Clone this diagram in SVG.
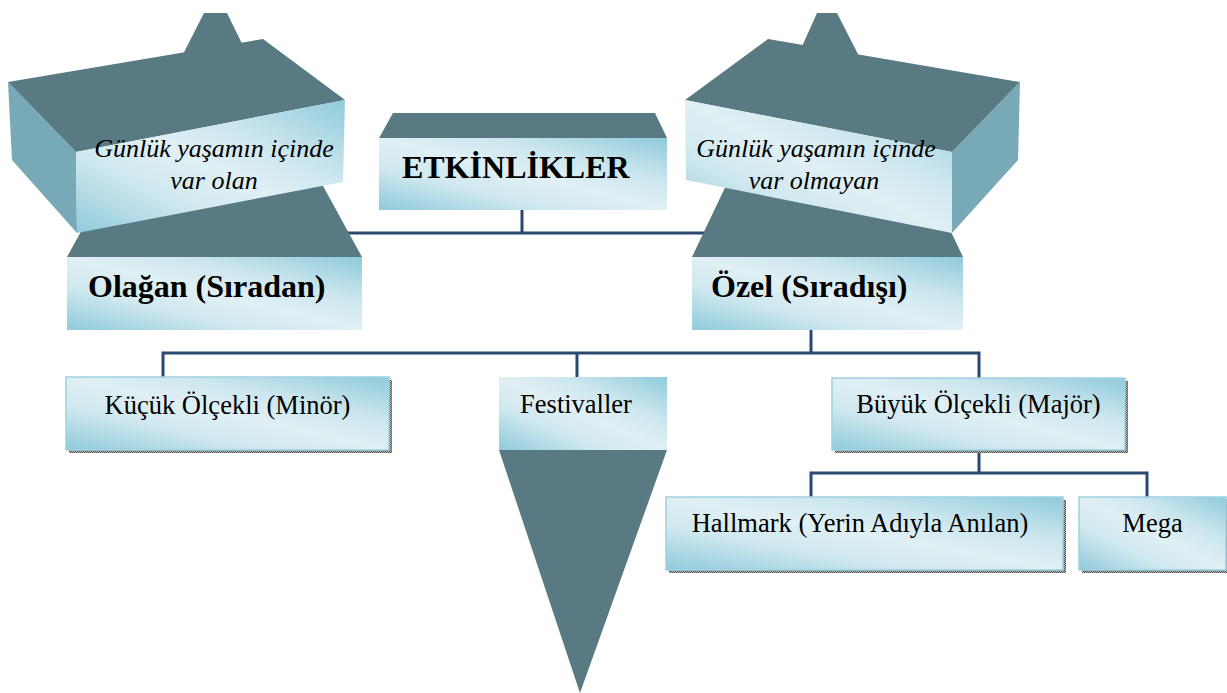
<svg xmlns="http://www.w3.org/2000/svg" width="1227" height="693" viewBox="0 0 1227 693">
  <defs>
    <linearGradient id="face" x1="0" y1="1" x2="1" y2="0">
      <stop offset="0" stop-color="#8fcadb"/>
      <stop offset="0.3" stop-color="#cfe8ef"/>
      <stop offset="0.5" stop-color="#e0f0f4"/>
      <stop offset="0.7" stop-color="#cbe6ee"/>
      <stop offset="1" stop-color="#8fcadb"/>
    </linearGradient>
    <pattern id="dither" width="2" height="2" patternUnits="userSpaceOnUse">
      <rect width="2" height="2" fill="#b0b0b0"/>
      <rect width="1" height="1" fill="#555"/>
      <rect x="1" y="1" width="1" height="1" fill="#555"/>
    </pattern>
    <style>
      .dark { fill: #597a82; }
      .side { fill: #77a9b6; }
      .front { fill: url(#face); }
      .box { fill: url(#face); stroke: #9fd2df; stroke-width: 1.5; }
      .shadow { fill: url(#dither); }
      .wire { fill: none; stroke: #2c4770; stroke-width: 3; stroke-linejoin: miter; }
      text { font-family: 'Liberation Serif', 'Times New Roman', Times, 'DejaVu Serif', serif; fill: #000; }
      .bold { font-weight: bold; font-size: 32px; }
      .ital { font-style: italic; font-size: 26px; text-anchor: middle; }
      .reg { font-size: 26.5px; text-anchor: middle; }
    </style>
  </defs>

  <!-- connectors, drawn first so the solid shapes sit over their ends -->
  <g id="connectors">
    <path class="wire" d="M522 210 V233 M260 233 H770"/>
    <path class="wire" d="M811 330 V353 M163 377 V353 H979 V378 M577 353 V377"/>
    <path class="wire" d="M979 450 V473 M811 497 V473 H1147 V497"/>
  </g>

  <!-- left branch: tilted block over the "Olağan" base -->
  <g id="olagan">
    <polygon class="dark" points="204,13 227,13 250,60 175,70"/>
    <polygon class="dark" points="112,175 317,175 362,257 67,257"/>
    <polygon class="side" points="8,82 76,152 77,233 12,160"/>
    <polygon class="dark" points="8,82 263,39 345,100 76,152"/>
    <polygon class="front" points="76,152 345,100 343,182 77,233"/>
    <text class="ital" x="214" y="157">Günlük yaşamın içinde</text>
    <text class="ital" x="214" y="189">var olan</text>
    <rect class="front" x="67" y="257" width="295" height="73"/>
    <text class="bold" x="88" y="297">Olağan (Sıradan)</text>
  </g>

  <!-- root -->
  <g id="etkinlikler">
    <polygon class="dark" points="393,113 655,113 667,138 379,138"/>
    <rect class="front" x="379" y="138" width="288" height="72"/>
    <text class="bold" x="402" y="178">ETKİNLİKLER</text>
  </g>

  <!-- right branch: tilted block over the "Özel" base -->
  <g id="ozel">
    <polygon class="dark" points="817,13 837,13 862,62 795,62"/>
    <polygon class="dark" points="731,175 924,175 963,257 692,257"/>
    <polygon class="side" points="952,152 1020,82 1018,160 952,233"/>
    <polygon class="dark" points="685,100 768,39 1020,82 952,152"/>
    <polygon class="front" points="685,100 952,152 952,233 686,180"/>
    <text class="ital" x="816" y="157">Günlük yaşamın içinde</text>
    <text class="ital" x="814" y="189">var olmayan</text>
    <rect class="front" x="692" y="257" width="271" height="73"/>
    <text class="bold" x="711" y="297">Özel (Sıradışı)</text>
  </g>

  <g id="kucuk">
    <rect class="shadow" x="69" y="380" width="323" height="73"/>
    <rect class="box" x="66" y="377" width="323" height="73"/>
    <text class="reg" x="227.5" y="414">Küçük Ölçekli (Minör)</text>
  </g>

  <g id="festivaller">
    <polygon class="dark" points="499,450 667,450 580,693"/>
    <rect class="front" x="499" y="377" width="168" height="73"/>
    <text class="reg" x="576" y="413">Festivaller</text>
  </g>

  <g id="buyuk">
    <rect class="shadow" x="835" y="381" width="293" height="72"/>
    <rect class="box" x="832" y="378" width="293" height="72"/>
    <text class="reg" x="978.5" y="413">Büyük Ölçekli (Majör)</text>
  </g>

  <g id="hallmark">
    <rect class="shadow" x="669" y="500" width="397" height="73"/>
    <rect class="box" x="666" y="497" width="397" height="73"/>
    <text class="reg" x="860" y="532">Hallmark (Yerin Adıyla Anılan)</text>
  </g>

  <g id="mega">
    <rect class="shadow" x="1082" y="500" width="147" height="73"/>
    <rect class="box" x="1079" y="497" width="147" height="73"/>
    <text class="reg" x="1152.5" y="532">Mega</text>
  </g>
</svg>
